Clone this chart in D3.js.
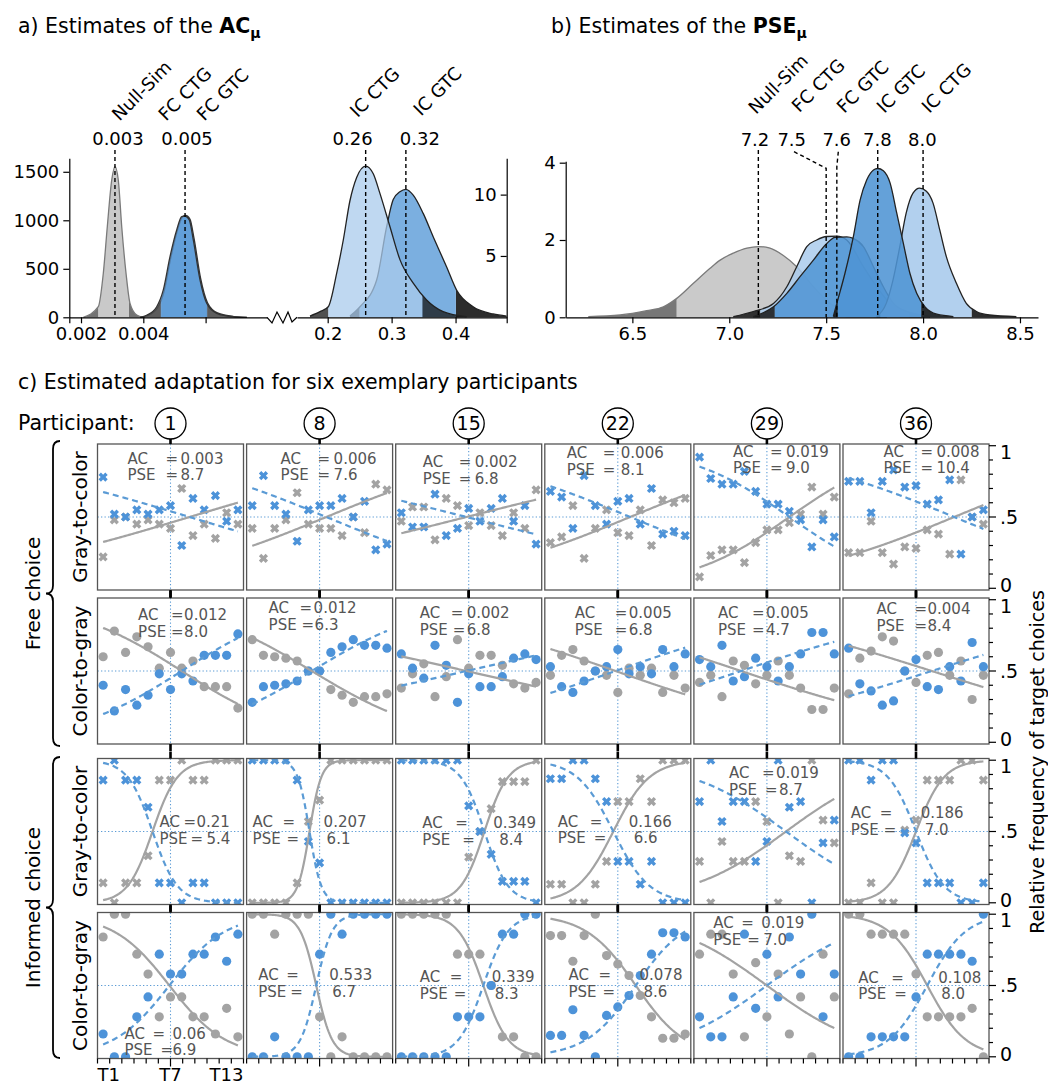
<!DOCTYPE html>
<html>
<head>
<meta charset="utf-8">
<script src="https://cdn.jsdelivr.net/npm/d3@7"></script>
<style>
  body { margin: 0; background: #fff; }
  svg { font-family: "DejaVu Sans", sans-serif; }
</style>
</head>
<body>
<svg id="chart" width="1048" height="1086"></svg>
<script>
// ---------------- data: panel a (AC estimates) ----------------
var acNullX = [0.002074,0.002555,0.002716,0.002844,0.002986,0.003091,0.003197,0.003307,0.003445,0.003573,0.003788,0.004];
var acNullY = [0,109,454,934,1415,1553,1415,934,454,144,24,0];
var acFcCtgX = [0.003894,0.004109,0.00443,0.004642,0.004857,0.005072,0.005233,0.005339,0.005477,0.005605,0.00582,0.006035,0.006356,0.006889,0.007319];
var acFcCtgY = [0,21,109,282,625,900,1037,1044,1003,797,385,144,41,6,0];
var acFcGtcX = [0.00392,0.00414,0.00446,0.00467,0.00488,0.00509,0.00525,0.00536,0.0055,0.00563,0.00584,0.00606,0.00638,0.0069,0.00733];
var acFcGtcY = [0,18,100,270,610,890,1030,1050,1010,810,400,150,45,8,0];
var acIcCtgX = [0.1723,0.188,0.2009,0.2141,0.2244,0.2348,0.2453,0.2594,0.2713,0.2817,0.2973,0.313,0.3338,0.3547,0.3806,0.4172];
var acIcCtgY = [0.1,0.46,0.86,3.6,6.3,9.5,11.4,12.33,11.7,10.1,7.4,4.7,2.78,1.41,0.46,0.05];
var acIcGtcX = [0.2348,0.2505,0.2766,0.2922,0.3025,0.313,0.3223,0.3338,0.3494,0.365,0.3859,0.4016,0.4275,0.4588,0.4797];
var acIcGtcY = [0.1,0.86,3.04,7.38,9.6,10.23,10.43,9.96,8.47,6.57,4.12,2.22,0.86,0.27,0.1];
var acHdi = { nullSim: [0.00256, 0.00354], fcCtg: [0.00456, 0.00604], fcGtc: [0.00458, 0.00606], icCtg: [0.201, 0.348], icGtc: [0.25, 0.4005] };
var acMedians = [0.00309, 0.00534, 0.2594, 0.3223];
var acMedianLabels = ["0.003", "0.005", "0.26", "0.32"];
var acNames = ["Null-Sim", "FC CTG", "FC GTC", "IC CTG", "IC GTC"];

// ---------------- data: panel b (PSE estimates) ----------------
var pseNullX = [6.273,6.437,6.574,6.66,6.729,6.815,6.901,6.953,7.021,7.091,7.15,7.21,7.279,7.348,7.434,7.52,7.606,7.726,7.813];
var pseNullY = [0.02,0.06,0.17,0.27,0.49,0.88,1.27,1.48,1.66,1.79,1.83,1.79,1.6,1.31,0.79,0.36,0.15,0.03,0];
var pseFcCtgX = [7.021,7.124,7.228,7.297,7.348,7.4,7.451,7.503,7.554,7.606,7.692,7.761,7.83,7.916,8.036];
var pseFcCtgY = [0.02,0.15,0.36,0.79,1.31,1.83,2.0,2.09,2.1,2.0,1.31,0.79,0.36,0.15,0.03];
var pseFcGtcX = [7.124,7.228,7.297,7.365,7.434,7.503,7.546,7.606,7.64,7.692,7.744,7.795,7.847,7.916,8.036];
var pseFcGtcY = [0.02,0.27,0.62,1.05,1.48,1.91,2.07,2.08,2.04,1.83,1.31,0.79,0.36,0.15,0.02];
var pseIcGtcX = [7.537,7.555,7.597,7.64,7.675,7.709,7.744,7.766,7.795,7.83,7.864,7.898,7.932,7.967,8.01,8.071,8.156];
var pseIcGtcY = [0.02,0.36,1.14,2.08,3.03,3.55,3.81,3.85,3.79,3.47,2.7,1.92,1.14,0.62,0.27,0.08,0.02];
var pseIcCtgX = [7.76,7.81,7.845,7.88,7.913,7.948,7.982,8.017,8.051,8.086,8.12,8.172,8.223,8.275,8.343,8.481];
var pseIcCtgY = [0.02,0.36,0.97,1.83,2.7,3.21,3.34,3.26,2.96,2.26,1.57,0.88,0.36,0.15,0.06,0.02];
var pseHdi = { nullSim: [6.729, 7.6], fcCtg: [7.16, 7.88], fcGtc: [7.235, 7.93], icGtc: [7.56, 7.99], icCtg: [7.78, 8.25] };
var pseMedians = [7.15, 7.5, 7.555, 7.766, 8.0];
var pseMedianLabels = ["7.2", "7.5", "7.6", "7.8", "8.0"];
var pseNames = ["Null-Sim", "FC CTG", "FC GTC", "IC GTC", "IC CTG"];

// ---------------- data: panel c (six participants) ----------------
var participants = [1, 8, 15, 22, 29, 36];
var stimLabels = ["T1", "T7", "T13"];
var rowLabels = ["Gray-to-color", "Color-to-gray", "Gray-to-color", "Color-to-gray"];
var groupLabels = ["Free choice", "Informed choice"];

var freeG2cGray = [
  [0.22,0.48,0.50,0.45,0.48,0.45,0.42,0.70,0.37,0.45,0.35,0.53,0.45],
  [0.42,0.21,0.42,0.48,0.67,0.45,0.42,0.42,0.37,0.50,0.39,0.73,0.69],
  [0.47,0.57,0.57,0.34,0.63,0.58,0.44,0.53,0.44,0.37,0.53,0.42,0.69],
  [0.32,0.36,0.58,0.21,0.42,0.55,0.39,0.37,0.55,0.30,0.62,0.60,0.63],
  [0.08,0.23,0.27,0.27,0.18,0.32,0.41,0.41,0.46,0.52,0.71,0.52,0.64],
  [0.25,0.25,0.47,0.25,0.17,0.29,0.28,0.41,0.38,0.24,0.76,0.50,0.45]
];
var freeG2cBlue = [
  [0.78,0.52,0.50,0.55,0.52,0.55,0.58,0.30,0.63,0.55,0.65,0.47,0.55],
  [0.58,0.79,0.58,0.52,0.33,0.55,0.58,0.58,0.63,0.50,0.61,0.27,0.31],
  [0.53,0.43,0.43,0.66,0.37,0.42,0.56,0.47,0.56,0.63,0.47,0.58,0.31],
  [0.68,0.64,0.42,0.79,0.58,0.45,0.61,0.63,0.45,0.70,0.38,0.40,0.37],
  [0.92,0.77,0.73,0.73,0.82,0.68,0.59,0.59,0.54,0.48,0.29,0.48,0.36],
  [0.75,0.75,0.53,0.75,0.83,0.71,0.72,0.59,0.62,0.76,0.24,0.50,0.55]
];
var freeC2gGray = [
  [0.60,0.78,0.63,0.74,0.67,0.52,0.63,0.52,0.57,0.39,0.39,0.39,0.24],
  [0.72,0.61,0.60,0.59,0.57,0.50,0.50,0.37,0.33,0.28,0.32,0.32,0.34],
  [0.38,0.48,0.55,0.32,0.46,0.72,0.52,0.61,0.61,0.54,0.41,0.38,0.42],
  [0.47,0.61,0.65,0.57,0.50,0.47,0.35,0.52,0.47,0.52,0.35,0.47,0.38],
  [0.42,0.47,0.32,0.57,0.54,0.41,0.47,0.57,0.47,0.38,0.23,0.23,0.38],
  [0.34,0.59,0.64,0.74,0.71,0.50,0.42,0.61,0.63,0.47,0.57,0.30,0.47]
];
var freeC2gBlue = [
  [0.40,0.22,0.37,0.26,0.33,0.48,0.37,0.48,0.43,0.61,0.61,0.61,0.76],
  [0.28,0.39,0.40,0.41,0.43,0.50,0.50,0.63,0.67,0.72,0.68,0.68,0.66],
  [0.62,0.52,0.45,0.68,0.54,0.28,0.48,0.39,0.39,0.46,0.59,0.62,0.58],
  [0.53,0.39,0.35,0.43,0.50,0.53,0.65,0.48,0.53,0.48,0.65,0.53,0.62],
  [0.58,0.53,0.68,0.43,0.46,0.59,0.53,0.43,0.53,0.62,0.77,0.77,0.62],
  [0.66,0.41,0.36,0.26,0.29,0.50,0.58,0.39,0.37,0.53,0.43,0.70,0.53]
];
var infG2cGray = [
  [0.14,0,0.14,0.14,0.33,0.86,0.86,1,0.86,0.86,1,1,1],
  [0,0,0,0,0.14,0.57,0.72,1,1,1,1,1,1],
  [0,0,0,0,0,0,0.32,0.5,0.66,0.85,0.85,0.85,1],
  [0.13,0.13,0,0,0.13,0.29,0.71,0.71,0.87,0.71,1,1,1],
  [0.29,0,0.43,0.29,0.29,0.71,0.57,0,0.33,0.29,1,0.58,0.42],
  [0,0,0.14,0,0,0.51,0.58,0.86,0.86,0.86,1,1,0.86]
];
var infG2cBlue = [
  [0.86,1,0.86,0.86,0.67,0.14,0.14,0,0.14,0.14,0,0,0],
  [1,1,1,1,0.86,0.43,0.28,0,0,0,0,0,0],
  [1,1,1,1,1,1,0.68,0.5,0.34,0.15,0.15,0.15,0],
  [0.87,0.87,1,1,0.87,0.71,0.29,0.29,0.13,0.29,0,0,0],
  [0.71,1,0.57,0.71,0.71,0.29,0.43,1,0.67,0.71,0,0.42,0.58],
  [1,1,0.86,1,1,0.49,0.42,0.14,0.14,0.14,0,0,0.14]
];
var infC2gGray = [
  [0.84,1,1,0.72,0.58,0.28,0.42,0.42,0.28,0.28,0.16,0.34,0.14],
  [1,1,0.86,1,1,1,0.28,0,0.14,0,0,0,0],
  [1,1,1,1,1,0.72,0.72,0.72,0.5,0.14,0.14,0,0],
  [0.85,0.85,0.67,0.85,1,0.71,0.65,0.57,0.43,0.28,0.13,0.13,0.16],
  [0.72,0.86,0.86,0.58,0.14,0.66,0.28,0.58,0.16,0.42,0,0.72,0.42],
  [1,1,0.86,0.86,0.86,0.86,0.58,0.28,0.28,0.28,0.28,0.34,0]
];
var infC2gBlue = [
  [0.16,0,0,0.28,0.42,0.72,0.58,0.58,0.72,0.72,0.84,0.67,0.86],
  [0,0,0.14,0,0,0,0.72,1,0.86,1,1,1,1],
  [0,0,0,0,0,0.28,0.28,0.28,0.5,0.86,0.86,1,1],
  [0.15,0.15,0.33,0.15,0,0.29,0.35,0.43,0.57,0.72,0.87,0.87,0.84],
  [0.28,0.14,0.14,0.42,0.86,0.34,0.72,0.42,0.84,0.58,1,0.28,0.58],
  [0,0,0.14,0.14,0.14,0.14,0.42,0.72,0.72,0.72,0.72,0.67,1]
];
var pseValues = [
  [8.7,7.6,6.8,8.1,9.0,10.4],
  [8.0,6.3,6.8,6.8,4.7,8.4],
  [5.4,6.1,8.4,6.6,8.7,7.0],
  [6.9,6.7,8.3,8.6,7.0,8.0]
];
var slopeValues = [
  [0.095,0.13,0.08,0.13,0.22,0.13],
  [0.2,0.19,0.072,0.11,0.105,0.1],
  [0.9,1.9,0.95,0.62,0.23,0.8],
  [0.4,1.4,0.9,0.45,0.23,0.58]
];
var acValues = [
  ["0.003","0.006","0.002","0.006","0.019","0.008"],
  ["0.012","0.012","0.002","0.005","0.005","0.004"],
  ["0.21","0.207","0.349","0.166","0.019","0.186"],
  ["0.06","0.533","0.339","0.078","0.019","0.108"]
];

var grayRows = [freeG2cGray, freeC2gGray, infG2cGray, infC2gGray];
var blueRows = [freeG2cBlue, freeC2gBlue, infG2cBlue, infC2gBlue];

// where the AC / PSE text sits in each cell: [x, y, "=" dx line1, "=" dx line2, value dx line1, value dx line2]
var annLayout = [
  [[30,14.5,38,38,53,53],[34,14.5,37,37,53,53],[27,17.8,36,36,52,52],[22,8.7,36,36,54,54],[39,7.5,37,37,53,53],[40.5,7.5,37,37,53,53]],
  [[40.6,16.7,33,33,46,46],[22,10,31,33,45,46],[24,14.7,31,33,47,47],[30,14.7,40,40,54,54],[24,14.7,34,34,48,48],[33.5,10.7,38,38,51,51]],
  [[62,63.2,24,31,37,47],[6,63.2,30,34,71,74],[26.5,64.2,33,40,71,77],[13,63,32,36,71,76],[35,14.2,33,36,47,50],[7.7,54.2,29,33,70,74]],
  [[27,120.8,28,36,48,48],[11.7,62.5,28,32,71,74],[24,64.2,30,34,72,75],[23.7,62.5,30,34,71,75],[19.4,10.2,28,34,48,50],[15.3,64.8,33,36,80,83]]
];

// ---------------- drawing ----------------
var svg = d3.select("#chart");
var clipN = 0;
var GRAY = "#a3a3a3", BLUE = "#4d93d9", LIGHT = "#aacbec", MED = "#4f94d4";

function styleAxis(g, fs) {
  g.selectAll("path.domain").attr("stroke", "#000").attr("stroke-width", 1.2);
  g.selectAll(".tick line").attr("stroke", "#000").attr("stroke-width", 1.2);
  g.selectAll(".tick text").attr("fill", "#000").style("font-size", fs + "px")
    .style("font-family", "DejaVu Sans, sans-serif");
}

function density(g, xs, ys, sx, sy, hdi, fill, tail, stroke, op) {
  var pts = xs.map(function (x, i) { return [x, ys[i]]; });
  var area = d3.area().x(function (d) { return sx(d[0]); }).y0(sy(0)).y1(function (d) { return sy(d[1]); }).curve(d3.curveMonotoneX);
  var line = d3.line().x(function (d) { return sx(d[0]); }).y(function (d) { return sy(d[1]); }).curve(d3.curveMonotoneX);
  var inId = "clip" + (clipN++), outId = "clip" + (clipN++);
  var x0 = sx(hdi[0]), x1 = sx(hdi[1]);
  g.append("clipPath").attr("id", inId).append("rect").attr("x", x0).attr("y", 0).attr("width", x1 - x0).attr("height", 400);
  var co = g.append("clipPath").attr("id", outId);
  co.append("rect").attr("x", 0).attr("y", 0).attr("width", x0).attr("height", 400);
  co.append("rect").attr("x", x1).attr("y", 0).attr("width", 1048 - x1).attr("height", 400);
  g.append("path").attr("d", area(pts)).attr("fill", tail).attr("fill-opacity", op).attr("clip-path", "url(#" + outId + ")");
  g.append("path").attr("d", area(pts)).attr("fill", fill).attr("fill-opacity", op).attr("clip-path", "url(#" + inId + ")");
  g.append("path").attr("d", line(pts)).attr("fill", "none").attr("stroke", stroke).attr("stroke-width", 1.3);
}

// titles
function title(x, y, pre, bold) {
  var t = svg.append("text").attr("x", x).attr("y", y).style("font-size", "20.5px").attr("fill", "#000");
  t.append("tspan").text(pre);
  if (bold) {
    t.append("tspan").attr("font-weight", "bold").text(bold);
    t.append("tspan").attr("font-weight", "bold").attr("dy", 5).style("font-size", "14px").text("μ");
  }
}
title(18, 33, "a) Estimates of the ", "AC");
title(551, 33, "b) Estimates of the ", "PSE");
title(18, 389, "c) Estimated adaptation for six exemplary participants");

// ---- panel a
var aLx = d3.scaleLinear().domain([0.001624, 0.007971]).range([69.3, 267]);
var aRx = d3.scaleLinear().domain([0.152, 0.48]).range([297, 506.7]);
var aLy = d3.scaleLinear().domain([0, 1639]).range([317.3, 158.3]);
var aRy = d3.scaleLinear().domain([0, 12.96]).range([317.3, 158.3]);
var pa = svg.append("g");

density(pa, acNullX, acNullY, aLx, aLy, acHdi.nullSim, "#c6c6c6", "#6b6b6b", "#7a7a7a", 0.95);
density(pa, acFcGtcX, acFcGtcY, aLx, aLy, acHdi.fcGtc, MED, "#555", "#333", 0.85);
density(pa, acFcCtgX, acFcCtgY, aLx, aLy, acHdi.fcCtg, "#5f9dd8", "#555", "#333", 0.7);
density(pa, acIcGtcX, acIcGtcY, aRx, aRy, acHdi.icGtc, "#6da6dd", "#151515", "#222", 0.9);
density(pa, acIcCtgX, acIcCtgY, aRx, aRy, acHdi.icCtg, LIGHT, "#151515", "#222", 0.75);

var intFmt = d3.format("d");
var gal = pa.append("g").attr("transform", "translate(69.3,0)").call(d3.axisLeft(aLy).tickValues([0, 500, 1000, 1500]).tickFormat(intFmt).tickSize(6).tickPadding(4).tickSizeOuter(0));
styleAxis(gal, 18);
var gar = pa.append("g").attr("transform", "translate(506.7,0)").call(d3.axisLeft(aRy).tickValues([5, 10]).tickFormat(intFmt).tickSize(6).tickPadding(4).tickSizeOuter(0));
styleAxis(gar, 18);
var gab1 = pa.append("g").attr("transform", "translate(0,317.3)").call(d3.axisBottom(aLx).tickValues([0.001624, 0.002, 0.004, 0.006])
  .tickFormat(function (d) { return d === 0.002 ? "0.002" : d === 0.004 ? "0.004" : ""; }).tickSize(6).tickPadding(4).tickSizeOuter(0));
styleAxis(gab1, 18);
var gab2 = pa.append("g").attr("transform", "translate(0,317.3)").call(d3.axisBottom(aRx).tickValues([0.2, 0.3, 0.4, 0.48])
  .tickFormat(function (d) { return d < 0.45 ? d3.format(".1f")(d) : ""; }).tickSize(6).tickPadding(4).tickSizeOuter(0));
styleAxis(gab2, 18);
// axis break
pa.append("path").attr("d", "M267,317.3 L272,323 L277,312 L283,323 L288,312 L292,322 L297,317.3")
  .attr("fill", "none").attr("stroke", "#000").attr("stroke-width", 1.2);

// medians a
var aMedX = [aLx(acMedians[0]), aLx(acMedians[1]), aRx(acMedians[2]), aRx(acMedians[3])];
var aMedLabelX = [aMedX[0] + 3, aMedX[1] + 2, aMedX[2] - 13, aMedX[3] + 14];
aMedX.forEach(function (x, i) {
  pa.append("line").attr("x1", x).attr("x2", x).attr("y1", 150).attr("y2", 317.3)
    .attr("stroke", "#000").attr("stroke-width", 1.4).attr("stroke-dasharray", "4,3");
  pa.append("text").attr("x", aMedLabelX[i]).attr("y", 145).attr("text-anchor", "middle")
    .style("font-size", "18px").text(acMedianLabels[i]);
});
var aNamePos = [[119.5, 121.7], [166, 121.7], [204.3, 121.7], [357.6, 118.3], [421, 116.7]];
acNames.forEach(function (n, i) {
  pa.append("text").attr("transform", "translate(" + aNamePos[i][0] + "," + aNamePos[i][1] + ") rotate(-45)")
    .style("font-size", "18px").text(n);
});

// ---- panel b
var bx = d3.scaleLinear().domain([6.156, 8.593]).range([565.7, 1038]);
var by = d3.scaleLinear().domain([0, 4.036]).range([317.3, 161.3]);
var pb = svg.append("g");
density(pb, pseNullX, pseNullY, bx, by, pseHdi.nullSim, "#c6c6c6", "#6b6b6b", "#7a7a7a", 0.92);
density(pb, pseFcCtgX, pseFcCtgY, bx, by, pseHdi.fcCtg, LIGHT, "#151515", "#222", 0.85);
density(pb, pseFcGtcX, pseFcGtcY, bx, by, pseHdi.fcGtc, MED, "#151515", "#222", 0.85);
density(pb, pseIcCtgX, pseIcCtgY, bx, by, pseHdi.icCtg, LIGHT, "#151515", "#222", 0.9);
density(pb, pseIcGtcX, pseIcGtcY, bx, by, pseHdi.icGtc, MED, "#151515", "#222", 0.88);

var gbl = pb.append("g").attr("transform", "translate(565.7,0)").call(d3.axisLeft(by).tickValues([0, 2, 4]).tickFormat(intFmt).tickSize(6).tickPadding(4).tickSizeOuter(0));
styleAxis(gbl, 18);
var gbb = pb.append("g").attr("transform", "translate(0,317.3)").call(d3.axisBottom(bx).tickValues([6.5, 7, 7.5, 8, 8.5]).tickFormat(d3.format(".1f")).tickSize(6).tickPadding(4).tickSizeOuter(0));
styleAxis(gbb, 18);

var bLabelX = [755, 791.7, 836.7, 877.3, 922.3];
pseMedians.forEach(function (m, i) {
  var x = bx(m), d;
  if (i === 1) d = "M794,151.7 L" + x + ",168.3 L" + x + ",317.3";
  else if (i === 2) d = "M838.3,151.7 L" + x + ",166.7 L" + x + ",317.3";
  else d = "M" + x + ",150 L" + x + ",317.3";
  pb.append("path").attr("d", d).attr("fill", "none").attr("stroke", "#000").attr("stroke-width", 1.4).attr("stroke-dasharray", "4,3");
  pb.append("text").attr("x", bLabelX[i]).attr("y", 146).attr("text-anchor", "middle").style("font-size", "18px").text(pseMedianLabels[i]);
});
var bNamePos = [[756, 115], [799.3, 113.3], [844.3, 114], [884.3, 114], [929.3, 114]];
pseNames.forEach(function (n, i) {
  pb.append("text").attr("transform", "translate(" + bNamePos[i][0] + "," + bNamePos[i][1] + ") rotate(-45)")
    .style("font-size", "18px").text(n);
});

// ---- panel c grid
var gx0 = 97.5, colStep = 149.1, pw = 146, ph = 146;
var rowTops = [444, 598, 758.5, 912.5];
var x = d3.scaleLinear().domain([0.5, 13.5]).range([0, pw]);
var y = d3.scaleLinear().domain([-0.012, 1.012]).range([ph, 0]);
var levels = d3.range(1, 14);
var fineT = d3.range(1, 13.001, 0.1);

function xMarker(r, w) {
  var p = [[-w,-r],[w,-r],[w,-w],[r,-w],[r,w],[w,w],[w,r],[-w,r],[-w,w],[-r,w],[-r,-w],[-w,-w]];
  var c = Math.SQRT1_2;
  return "M" + p.map(function (q) { return [(q[0] - q[1]) * c, (q[0] + q[1]) * c].join(","); }).join("L") + "Z";
}
var xPath = xMarker(4.8, 1.7);

svg.append("text").attr("x", 18).attr("y", 430).style("font-size", "20.5px").text("Participant:");

participants.forEach(function (p, c) {
  var cx = gx0 + c * colStep + pw / 2;
  svg.append("circle").attr("cx", cx).attr("cy", 423.5).attr("r", 15.5).attr("fill", "#fff").attr("stroke", "#000").attr("stroke-width", 1.3);
  svg.append("text").attr("x", cx).attr("y", 423.5).attr("dy", "0.36em").attr("text-anchor", "middle").style("font-size", "19px").text(p);
});

rowTops.forEach(function (top, r) {
  var grays = grayRows[r], blues = blueRows[r];
  var sign = (r % 2 === 0) ? 1 : -1;
  var marker = (r % 2 === 0) ? "x" : "o";
  participants.forEach(function (p, c) {
    var g = svg.append("g").attr("transform", "translate(" + (gx0 + c * colStep) + "," + top + ")");
    var id = "cell" + r + "_" + c;
    g.append("clipPath").attr("id", id).append("rect").attr("width", pw).attr("height", ph);
    var inner = g.append("g").attr("clip-path", "url(#" + id + ")");
    // guides
    inner.append("line").attr("x1", x(7)).attr("x2", x(7)).attr("y1", 0).attr("y2", ph)
      .attr("stroke", "#5b9bd5").attr("stroke-width", 1.1).attr("stroke-dasharray", "1.3,2.2");
    inner.append("line").attr("x1", 0).attr("x2", pw).attr("y1", y(0.5)).attr("y2", y(0.5))
      .attr("stroke", "#5b9bd5").attr("stroke-width", 1.1).attr("stroke-dasharray", "1.3,2.2");
    // data points
    [[grays[c], GRAY], [blues[c], BLUE]].forEach(function (s) {
      levels.forEach(function (t, i) {
        if (marker === "x") {
          inner.append("path").attr("d", xPath).attr("transform", "translate(" + x(t) + "," + y(s[0][i]) + ")").attr("fill", s[1]);
        } else {
          inner.append("circle").attr("cx", x(t)).attr("cy", y(s[0][i])).attr("r", 4.6).attr("fill", s[1]);
        }
      });
    });
    // psychometric fits
    var pse = pseValues[r][c], k = slopeValues[r][c];
    var fitGray = fineT.map(function (t) { return [t, 1 / (1 + Math.exp(-sign * k * (t - pse)))]; });
    var fitBlue = fitGray.map(function (d) { return [d[0], 1 - d[1]]; });
    var ln = d3.line().x(function (d) { return x(d[0]); }).y(function (d) { return y(d[1]); });
    inner.append("path").attr("d", ln(fitGray)).attr("fill", "none").attr("stroke", GRAY).attr("stroke-width", 2.2);
    inner.append("path").attr("d", ln(fitBlue)).attr("fill", "none").attr("stroke", "#5b9bd5").attr("stroke-width", 2.2).attr("stroke-dasharray", "6,4");
    // frame
    g.append("rect").attr("width", pw).attr("height", ph).attr("fill", "none").attr("stroke", "#555").attr("stroke-width", 1.3);
    // centre ticks
    g.append("line").attr("x1", x(7)).attr("x2", x(7)).attr("y1", r === 0 ? -5 : -7).attr("y2", 0).attr("stroke", "#000").attr("stroke-width", 2.6);
    if (r < 3) {
      g.append("line").attr("x1", x(7)).attr("x2", x(7)).attr("y1", ph).attr("y2", ph + 7).attr("stroke", "#000").attr("stroke-width", 2.6);
    } else {
      d3.range(13).forEach(function (i) {
        var tx = i * pw / 12;
        g.append("line").attr("x1", tx).attr("x2", tx).attr("y1", ph).attr("y2", ph + (i === 6 ? 8 : 5))
          .attr("stroke", "#000").attr("stroke-width", 1.2);
      });
      if (c === 0) {
        [[0, "start"], [pw / 2, "middle"], [pw, "end"]].forEach(function (a, i) {
          g.append("text").attr("x", a[0]).attr("y", ph + 22).attr("text-anchor", a[1]).style("font-size", "18px").text(stimLabels[i]);
        });
      }
    }
    // AC / PSE annotation
    var L = annLayout[r][c];
    var lines = [["AC", L[2], L[4], acValues[r][c], L[1]], ["PSE", L[3], L[5], pse.toFixed(1), L[1] + 16.5]];
    lines.forEach(function (l) {
      [[0, l[0]], [l[1], "="], [l[2], l[3]]].forEach(function (part) {
        g.append("text").attr("x", L[0] + part[0]).attr("y", l[4]).attr("dy", "0.36em")
          .attr("fill", "#555").style("font-size", "15px").text(part[1]);
      });
    });
  });

  // right axis
  var ax = gx0 + 5 * colStep + pw;
  var ra = svg.append("g").attr("transform", "translate(" + ax + "," + top + ")");
  d3.range(11).forEach(function (i) {
    var v = i / 10, major = (i % 5 === 0);
    ra.append("line").attr("x1", 0).attr("x2", major ? 7 : 4).attr("y1", y(v)).attr("y2", y(v)).attr("stroke", "#000").attr("stroke-width", 1.2);
  });
  [[1, "1", 6], [0.5, ".5", 0], [0, "0", -3]].forEach(function (t) {
    ra.append("text").attr("x", 11).attr("y", y(t[0]) + t[2]).attr("dy", "0.36em").style("font-size", "19px").text(t[1]);
  });

  // row label
  svg.append("text").attr("transform", "translate(80," + (top + ph / 2) + ") rotate(-90)")
    .attr("text-anchor", "middle").attr("dy", "0.36em").style("font-size", "20px").text(rowLabels[r]);
});

svg.append("text").attr("transform", "translate(1037,762) rotate(-90)").attr("text-anchor", "middle")
  .attr("dy", "0.36em").style("font-size", "19px").text("Relative frequency of target choices");

// group braces and labels
function brace(xp, y0, y1) {
  var ym = (y0 + y1) / 2;
  return "M" + (xp + 7) + "," + y0 + " Q" + xp + "," + y0 + " " + xp + "," + (y0 + 8) +
    " L" + xp + "," + (ym - 8) + " Q" + xp + "," + ym + " " + (xp - 7) + "," + ym +
    " Q" + xp + "," + ym + " " + xp + "," + (ym + 8) + " L" + xp + "," + (y1 - 8) +
    " Q" + xp + "," + y1 + " " + (xp + 7) + "," + y1;
}
[[441, 746], [757, 1058]].forEach(function (b, i) {
  svg.append("path").attr("d", brace(53, b[0], b[1])).attr("fill", "none").attr("stroke", "#000").attr("stroke-width", 1.8);
  svg.append("text").attr("transform", "translate(33," + ((b[0] + b[1]) / 2) + ") rotate(-90)")
    .attr("text-anchor", "middle").attr("dy", "0.36em").style("font-size", "20px").text(groupLabels[i]);
});
</script>
</body>
</html>
